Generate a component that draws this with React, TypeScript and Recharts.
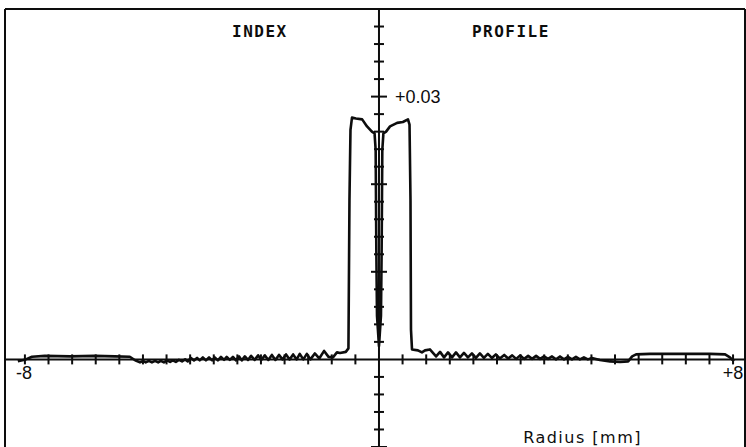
import React from 'react';
import {
  ComposedChart,
  Line,
  Scatter,
  XAxis,
  YAxis,
  ReferenceLine,
  ReferenceDot,
} from 'recharts';

// [radius mm, index difference]
const claddingLeft: [number, number][] = [
  [-8.16, -0.0002], [-7.98, 0.0], [-7.84, 0.0003], [-7.55, 0.0004], [-6.98, 0.00035],
  [-6.42, 0.0004], [-5.97, 0.00035], [-5.63, 0.0003], [-5.51, -0.0001], [-5.4, -0.00034],
  [-5.33, -0.00017], [-5.27, -0.00034], [-5.2, -0.00017], [-5.13, -0.00034], [-5.06, -0.00017],
  [-4.99, -0.00034], [-4.93, -0.00017], [-4.86, -0.00034], [-4.79, -0.00011], [-4.72, -0.00029],
  [-4.66, -0.00011], [-4.59, -0.00029], [-4.52, -0.00006], [-4.45, -0.00023], [-4.38, 0.0],
  [-4.32, -0.00023], [-4.25, 0.00017], [-4.18, -0.00011], [-4.11, 0.00017], [-4.05, -0.00011],
  [-3.98, 0.00023], [-3.91, -0.00011], [-3.84, 0.00023], [-3.77, -0.00011], [-3.71, 0.00023],
  [-3.64, -0.00011], [-3.57, 0.00029], [-3.5, -0.00006], [-3.44, 0.00029], [-3.37, -0.00006],
  [-3.3, 0.00029], [-3.23, -0.00011], [-3.16, 0.00034], [-3.1, -0.00011], [-3.03, 0.00034],
  [-2.96, -0.00006], [-2.89, 0.0004], [-2.81, -0.00006], [-2.73, 0.00046], [-2.66, -0.00006],
  [-2.58, 0.00046], [-2.5, -0.00006], [-2.42, 0.00051], [-2.34, -0.00006], [-2.26, 0.00051],
  [-2.18, 0.0], [-2.1, 0.00057], [-2.02, 0.0], [-1.94, 0.00057], [-1.86, 0.0],
  [-1.79, 0.00063], [-1.71, 0.0], [-1.63, 0.00063], [-1.55, 0.0], [-1.45, 0.00068],
  [-1.35, 0.00011], [-1.24, 0.00097], [-1.14, 0.00029], [-1.04, 0.00023], [-0.95, 0.0008],
  [-0.88, 0.00074], [-0.75, 0.00086], [-0.69, 0.00126],
];

const core: [number, number][] = [
  [-0.667, 0.0182], [-0.644, 0.0262], [-0.61, 0.0276], [-0.52, 0.0275], [-0.38, 0.0274],
  [-0.27, 0.0266], [-0.16, 0.026], [-0.1, 0.0258], [-0.075, 0.0239], [-0.06, 0.0125],
  [-0.045, 0.005], [0, 0.0015], [0.045, 0.005], [0.06, 0.0125], [0.075, 0.0239], [0.1, 0.0258],
  [0.16, 0.026], [0.25, 0.0266], [0.41, 0.027], [0.54, 0.0271], [0.655, 0.0274], [0.69, 0.0268],
  [0.712, 0.0182], [0.723, 0.0034],
];

const claddingRight: [number, number][] = [
  [0.746, 0.00114], [0.88, 0.00103], [0.97, 0.0008], [1.04, 0.00103], [1.15, 0.00114],
  [1.29, 0.00034], [1.38, 0.00086], [1.47, 0.00023], [1.56, 0.0008], [1.65, 0.00023],
  [1.74, 0.0008], [1.83, 0.00023], [1.92, 0.00074], [2.01, 0.00023], [2.1, 0.00068],
  [2.19, 0.00017], [2.28, 0.00068], [2.37, 0.00017], [2.46, 0.00063], [2.55, 0.00017],
  [2.64, 0.00057], [2.73, 0.00011], [2.83, 0.00051], [2.92, 0.00011], [3.01, 0.00046],
  [3.1, 0.00006], [3.19, 0.00046], [3.28, 0.00006], [3.37, 0.0004], [3.46, 0.00006],
  [3.55, 0.0004], [3.64, 0.00006], [3.73, 0.00034], [3.82, 0.00006], [3.91, 0.00034],
  [4.0, 0.0], [4.09, 0.00034], [4.18, 0.0], [4.27, 0.00029], [4.36, 0.0],
  [4.45, 0.00029], [4.54, 0.0], [4.63, 0.00023], [4.72, 0.0], [4.81, 0.00017],
  [4.99, -0.00006], [5.22, -0.00023], [5.45, -0.00029], [5.63, -0.00023], [5.72, 0.00034],
  [5.81, 0.00057], [6.12, 0.00063], [6.8, 0.00063], [7.48, 0.00063], [7.82, 0.00057],
  [7.93, 0.00023], [8.02, -0.00023],
];

// tick marks on the crossing axes
const xTicks = [
  -8, -7.467, -6.933, -6.4, -5.867, -5.333, -4.8, -4.267, -3.733, -3.2, -2.667, -2.133, -1.6, -1.067, -0.533,
  0.533, 1.067, 1.6, 2.133, 2.667, 3.2, 3.733, 4.267, 4.8, 5.333, 5.867, 6.4, 6.933, 7.467, 8,
];
const yTicks = [
  -0.01, -0.008, -0.006, -0.004, -0.002,
  0.002, 0.004, 0.006, 0.008, 0.01, 0.012, 0.014, 0.016, 0.018, 0.02,
  0.022, 0.024, 0.026, 0.028, 0.03, 0.032, 0.034, 0.036, 0.038,
];
const yMajor = [-0.01, 0.01, 0.02, 0.03];

const profile = [...claddingLeft, ...core, ...claddingRight].map(([r, n]) => ({ r, n }));
const xTickData = xTicks.map((r) => ({ r, n: 0 }));
const yTickData = yTicks.map((n) => ({ r: 0, n, major: yMajor.includes(n) }));

const INK = '#0d0d0d';
const X_MIN = -8.45;
const X_MAX = 8.27;
const Y_MIN = -0.01;
const Y_MAX = 0.04;

const XTickMark = (props: any) => (
  <line x1={props.cx} x2={props.cx} y1={props.cy - 5} y2={props.cy + 5} stroke={INK} strokeWidth={2} />
);

const YTickMark = (props: any) => {
  const h = props.payload && props.payload.major ? 8 : 5;
  return <line x1={props.cx - h} x2={props.cx + h} y1={props.cy} y2={props.cy} stroke={INK} strokeWidth={2} />;
};

const plotterFont = { fontFamily: 'DejaVu Sans Mono', fontWeight: 'bold', fontSize: 16, letterSpacing: 1.5 };
const sansFont = { fontFamily: 'Liberation Sans', fontSize: 18 };

export default function App() {
  return (
    <div style={{ position: 'absolute', left: 0, top: 0, background: '#fff' }}>
      <ComposedChart width={746} height={447} margin={{ top: 9, right: 1, bottom: 0, left: 5 }}>
        <XAxis type="number" dataKey="r" domain={[X_MIN, X_MAX]} allowDataOverflow hide />
        <YAxis type="number" dataKey="n" domain={[Y_MIN, Y_MAX]} allowDataOverflow hide />

        {/* frame */}
        <ReferenceLine x={X_MIN} stroke={INK} strokeWidth={2} />
        <ReferenceLine x={X_MAX} stroke={INK} strokeWidth={2} />
        <ReferenceLine y={Y_MAX} stroke={INK} strokeWidth={2} />

        {/* crossing axes */}
        <ReferenceLine y={0} stroke={INK} strokeWidth={2} />
        <ReferenceLine x={0} stroke={INK} strokeWidth={2} />

        <Scatter data={xTickData} shape={XTickMark} isAnimationActive={false} />
        <Scatter data={yTickData} shape={YTickMark} isAnimationActive={false} />

        <Line
          data={profile}
          dataKey="n"
          type="linear"
          stroke={INK}
          strokeWidth={2.6}
          strokeLinejoin="round"
          dot={false}
          isAnimationActive={false}
        />

        <ReferenceDot x={-2.69} y={0.0375} r={0} label={{ value: 'INDEX', position: 'center', fill: INK, ...plotterFont }} />
        <ReferenceDot x={2.98} y={0.0375} r={0} label={{ value: 'PROFILE', position: 'center', fill: INK, ...plotterFont }} />
        <ReferenceDot x={0.25} y={0.03} r={0} label={{ value: '+0.03', position: 'right', fill: INK, ...sansFont }} />
        <ReferenceDot x={-8.02} y={-0.00155} r={0} label={{ value: '-8', position: 'center', fill: INK, ...sansFont }} />
        <ReferenceDot x={8.0} y={-0.00155} r={0} label={{ value: '+8', position: 'center', fill: INK, ...sansFont }} />
        <ReferenceDot
          x={4.6}
          y={-0.00886}
          r={0}
          label={{ value: 'Radius [mm]', position: 'center', fill: INK, fontFamily: 'DejaVu Sans', fontSize: 16, letterSpacing: 1.5 }}
        />
      </ComposedChart>
    </div>
  );
}
